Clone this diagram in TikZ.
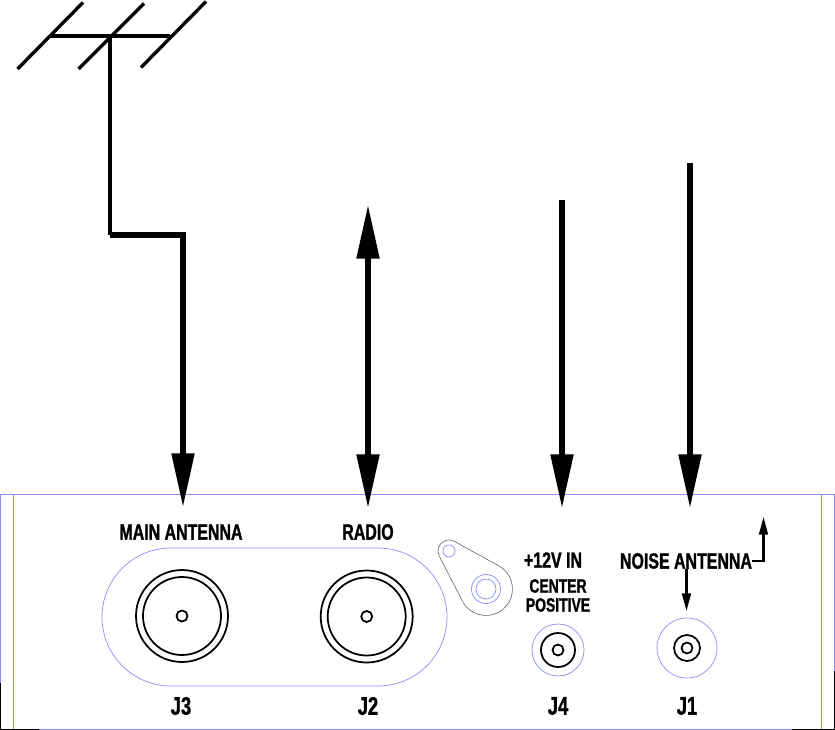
\documentclass[tikz,border=0pt]{standalone}
\usepackage{fontspec}
\usetikzlibrary{arrows.meta,calc}
\newfontfamily\panelfont[FakeStretch=0.72,FakeBold=1.2]{Liberation Sans Bold}

\newcommand*{\wmax}{835}
\newcommand*{\hmax}{730}
\definecolor{panelblue}{RGB}{140,140,250}

\begin{document}
\begin{tikzpicture}
[
	x=0.02cm,
	y=-0.02cm,
	bigtip/.style={-{Triangle[length=30.5pt,width=12.5pt]},line width=3pt},
	smalltip/.style={-{Triangle[length=10pt,width=5pt]},line width=1.3pt},
	panel/.style={draw=panelblue,line width=0.4pt},
	jack/.style={draw,line width=1pt},
	rod/.style={line width=1.9pt},
	lbl/.style={font=\panelfont\fontsize{12.6pt}{14pt}\selectfont,inner sep=0pt},
	sublbl/.style={font=\panelfont\fontsize{11pt}{12pt}\selectfont,inner sep=0pt},
	jlbl/.style={font=\panelfont\fontsize{14.5pt}{16pt}\selectfont,inner sep=0pt}
]

	\useasboundingbox (0,0) rectangle (\wmax,\hmax);

	% front panel
	\draw[panel] (0.5,494) rectangle (834,729);
	\draw[panel] (13,494) -- (13,729);
	\draw[panel] (821,494) -- (821,729);
	\draw[line width=0.5pt] (0.5,683) -- (0.5,729) -- (39,729);
	\draw[line width=0.5pt] (834,671) -- (834,729) -- (792,729);
	\draw[panel] (171,548) -- (378,548) arc[start angle=-90,end angle=90,radius=69]
	  -- (171,686) arc[start angle=90,end angle=270,radius=69];

	% connector centres
	\coordinate (j3) at (182,616);
	\coordinate (j2) at (366.7,616.5);
	\coordinate (j4) at (558,650);
	\coordinate (j1) at (687,648);
	\coordinate (lughole) at (449,551);
	\coordinate (lugstud) at (486,589);

	\draw[jack] (j3) circle[radius=46] (j3) circle[radius=39] (j3) circle[radius=5.5];
	\draw[jack] (j2) circle[radius=46] (j2) circle[radius=39] (j2) circle[radius=5.5];

	\draw[panel] (j4) circle[radius=26];
	\draw[jack] (j4) circle[radius=17] (j4) circle[radius=5.5];

	\draw[panel] (j1) circle[radius=30];
	\draw[jack] (j1) circle[radius=13] (j1) circle[radius=5.5];

	% ground lug
	\draw[black!60,line width=0.35pt] (lughole) ++(152.8:11) arc[start angle=152.8,end angle=298.8,radius=11]
	  -- ($(lugstud)+(-61.2:26.5)$) arc[start angle=-61.2,end angle=152.8,radius=26.5] -- cycle;
	\draw[panel] (lughole) circle[radius=6];
	\draw[panel] (lugstud) circle[radius=14.5] (lugstud) circle[radius=10];

	% labels
	\node[lbl] (mainlbl) at (181,532) {MAIN ANTENNA};
	\node[lbl] (radiolbl) at (368,532) {RADIO};
	\node[lbl] (powerlbl) at (553,560) {+12V IN};
	\node[sublbl] (centerlbl) at (558,586) {CENTER};
	\node[sublbl] (positivelbl) at (558,605) {POSITIVE};
	\node[lbl] (noiselbl) at (686,561) {NOISE ANTENNA};
	\node[jlbl] (j3lbl) at (181,706) {J3};
	\node[jlbl] (j2lbl) at (368,706) {J2};
	\node[jlbl] (j4lbl) at (558,706) {J4};
	\node[jlbl] (j1lbl) at (687,706) {J1};

	% antenna
	\coordinate (boomleft) at (50,36);
	\coordinate (boommid) at (110,36);
	\coordinate (boomright) at (170,36);
	\draw[rod] (17.5,69) -- (83,2.5);
	\draw[rod] (78.5,69) -- (144,3.5);
	\draw[rod] (141,67.5) -- (206,1.5);
	\draw[rod] (boomleft) -- (boomright);

	% feed lines
	\coordinate (mainturn) at (183,235);
	\coordinate (maintip) at (183,507);
	\coordinate (radiotop) at (368,205);
	\coordinate (radiotip) at (368,508);
	\coordinate (powertop) at (562,200);
	\coordinate (powertip) at (562,508);
	\coordinate (noisetop) at (690,163);
	\coordinate (noisetip) at (690,508);
	\coordinate (noisedown) at (686.5,611);
	\coordinate (noiseup) at (763.5,517);

	\draw[line width=2pt] (boommid) -- (boommid |- mainturn);
	\draw[bigtip] (boommid |- mainturn) -- (mainturn) -- (maintip);
	\draw[bigtip,{Triangle[length=30.5pt,width=12.5pt]}-{Triangle[length=30.5pt,width=12.5pt]}] (radiotop) -- (radiotip);
	\draw[bigtip] (powertop) -- (powertip);
	\draw[bigtip] (noisetop) -- (noisetip);

	\draw[smalltip] (noiselbl.south -| noisedown) -- (noisedown);
	\draw[smalltip] (noiselbl.east) -| (noiseup);

\end{tikzpicture}
\end{document}
